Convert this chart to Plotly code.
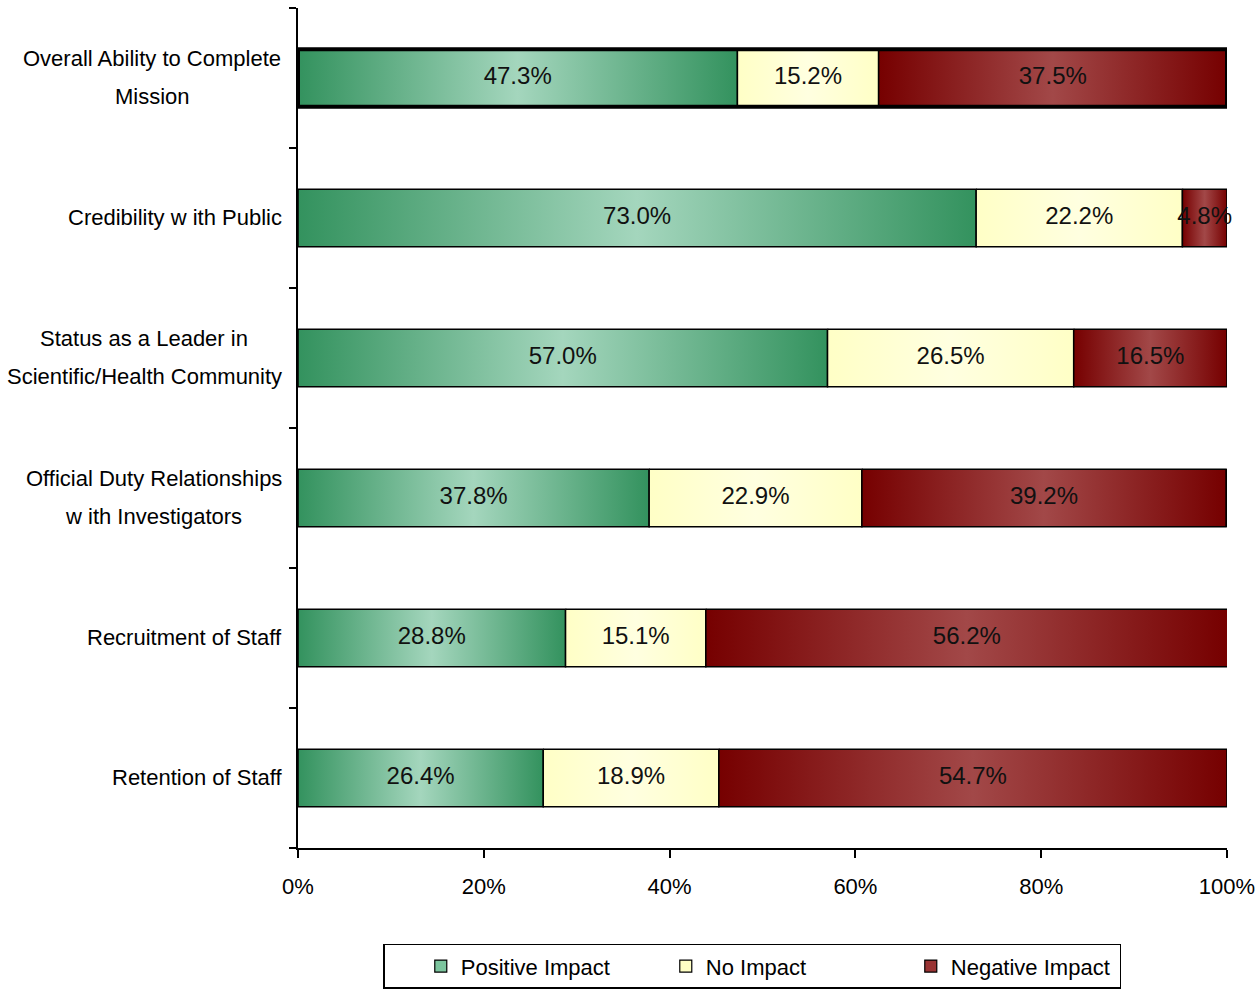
import plotly.graph_objects as go

# Survey results: share of responses per impact level, one row per area
categories = [
    "Overall Ability to Complete<br>Mission",
    "Credibility w ith Public",
    "Status as a Leader in<br>Scientific/Health Community",
    "Official Duty Relationships<br>w ith Investigators",
    "Recruitment of Staff",
    "Retention of Staff",
]
positive = [47.3, 73.0, 57.0, 37.8, 28.8, 26.4]
no_impact = [15.2, 22.2, 26.5, 22.9, 15.1, 18.9]
negative = [37.5, 4.8, 16.5, 39.2, 56.2, 54.7]
series_names = ["Positive Impact", "No Impact", "Negative Impact"]
x_tick_values = [0, 20, 40, 60, 80, 100]
x_tick_labels = ["0%", "20%", "40%", "60%", "80%", "100%"]
highlight_row = 0  # row drawn with a heavy outline

FONT = "Liberation Sans, Arial, sans-serif"
LABEL_SIZE = 22
VALUE_SIZE = 24
LINE_STEP = 38   # px between lines of a wrapped category label
LABEL_GAP = 16   # px between category labels and the y axis
BAR_WIDTH = 0.41

# Advance widths (1/1000 em) of Liberation Sans, used to centre wrapped labels
ADVANCE = {
    " ": 278, "/": 278, "A": 667, "C": 722, "D": 722, "H": 722, "I": 278,
    "L": 556, "M": 833, "O": 778, "P": 667, "R": 722, "S": 667,
    "a": 556, "b": 556, "c": 500, "d": 556, "e": 556, "f": 278, "g": 556,
    "h": 556, "i": 222, "l": 222, "m": 833, "n": 556, "o": 556, "p": 556,
    "r": 333, "s": 500, "t": 278, "u": 556, "v": 500, "w": 722, "y": 500,
}


def text_width(s, size):
    return sum(ADVANCE.get(ch, 556) for ch in s) * size / 1000.0


series_values = [positive, no_impact, negative]
legend_colors = ["#7cc59e", "#ffffc4", "#9a3434"]
gradients = [
    [[0, "#33925e"], [0.5, "#a4d6bd"], [1, "#33925e"]],
    [[0, "#ffffc6"], [0.5, "#ffffe0"], [1, "#ffffc6"]],
    [[0, "#760000"], [0.5, "#a24848"], [1, "#760000"]],
]

rows = list(range(len(categories)))
fig = go.Figure()

# Base stacked bars (also provide the legend swatches)
for name, vals, col in zip(series_names, series_values, legend_colors):
    fig.add_trace(go.Bar(
        y=rows, x=vals, name=name, orientation="h", width=BAR_WIDTH,
        marker=dict(color=col, line=dict(width=1.2, color="black")),
        hoverinfo="skip",
    ))

# Gradient-filled segments drawn over each bar piece
label_x, label_y, label_text = [], [], []
for r in rows:
    start = 0.0
    for s, vals in enumerate(series_values):
        v = vals[r]
        x0, x1 = start, start + v
        y0, y1 = r - BAR_WIDTH / 2, r + BAR_WIDTH / 2
        fig.add_trace(go.Scatter(
            x=[x0, x1, x1, x0, x0], y=[y0, y0, y1, y1, y0],
            mode="lines", fill="toself",
            fillgradient=dict(type="horizontal", colorscale=gradients[s]),
            line=dict(color="black", width=1.5),
            showlegend=False, hoverinfo="skip",
        ))
        label_x.append((x0 + x1) / 2)
        label_y.append(r)
        label_text.append(f"{v:.1f}%")
        start = x1

# Heavy outline around the highlighted row
total = sum(v[highlight_row] for v in series_values)
h0, h1 = highlight_row - BAR_WIDTH / 2, highlight_row + BAR_WIDTH / 2
fig.add_trace(go.Scatter(
    x=[0, total, total, 0, 0], y=[h0, h0, h1, h1, h0],
    mode="lines", line=dict(color="black", width=4),
    showlegend=False, hoverinfo="skip",
))

# Value labels
fig.add_trace(go.Scatter(
    x=label_x, y=label_y, text=label_text, mode="text",
    textfont=dict(family=FONT, size=VALUE_SIZE, color="#111111"),
    textposition="middle center", cliponaxis=False,
    showlegend=False, hoverinfo="skip",
))

# Category labels: block right-aligned to the axis, lines centred on each other
for r, cat in zip(rows, categories):
    lines = cat.split("<br>")
    n = len(lines)
    block_w = max(text_width(line, LABEL_SIZE) for line in lines)
    for k, line in enumerate(lines):
        fig.add_annotation(
            x=0, xref="paper", xanchor="center",
            xshift=-LABEL_GAP - block_w / 2,
            y=r, yref="y", yanchor="middle",
            yshift=((n - 1) / 2 - k) * LINE_STEP + 1,
            text=line, showarrow=False,
            font=dict(family=FONT, size=LABEL_SIZE, color="black"),
        )

fig.update_layout(
    width=1256, height=997,
    barmode="stack",
    plot_bgcolor="white", paper_bgcolor="white",
    margin=dict(l=298, r=29, t=8, b=149, autoexpand=False),
    font=dict(family=FONT, size=LABEL_SIZE, color="black"),
    legend=dict(
        orientation="h", x=0.489, xanchor="center", y=-0.114, yanchor="top",
        bordercolor="black", borderwidth=1.5,
        font=dict(family=FONT, size=LABEL_SIZE, color="black"),
        entrywidth=164, entrywidthmode="pixels", indentation=36,
        traceorder="normal",
    ),
)

fig.update_xaxes(
    range=[0, 100], tickvals=x_tick_values, ticktext=x_tick_labels,
    showgrid=False, zeroline=False, automargin=False,
    showline=True, linecolor="black", linewidth=2,
    ticks="outside", ticklen=8, tickwidth=2, tickcolor="black",
    ticklabelstandoff=10,
    tickfont=dict(family=FONT, size=LABEL_SIZE, color="black"),
)

fig.update_yaxes(
    range=[len(categories) - 0.5, -0.5],
    tickvals=rows, ticktext=[""] * len(rows), ticks="",
    showgrid=False, zeroline=False, automargin=False,
    showline=True, linecolor="black", linewidth=2,
    minor=dict(
        tickvals=[r - 0.5 for r in rows] + [len(rows) - 0.5],
        ticks="outside", ticklen=7, tickwidth=2, tickcolor="black",
        showgrid=False,
    ),
)

fig.write_html("out.html")
